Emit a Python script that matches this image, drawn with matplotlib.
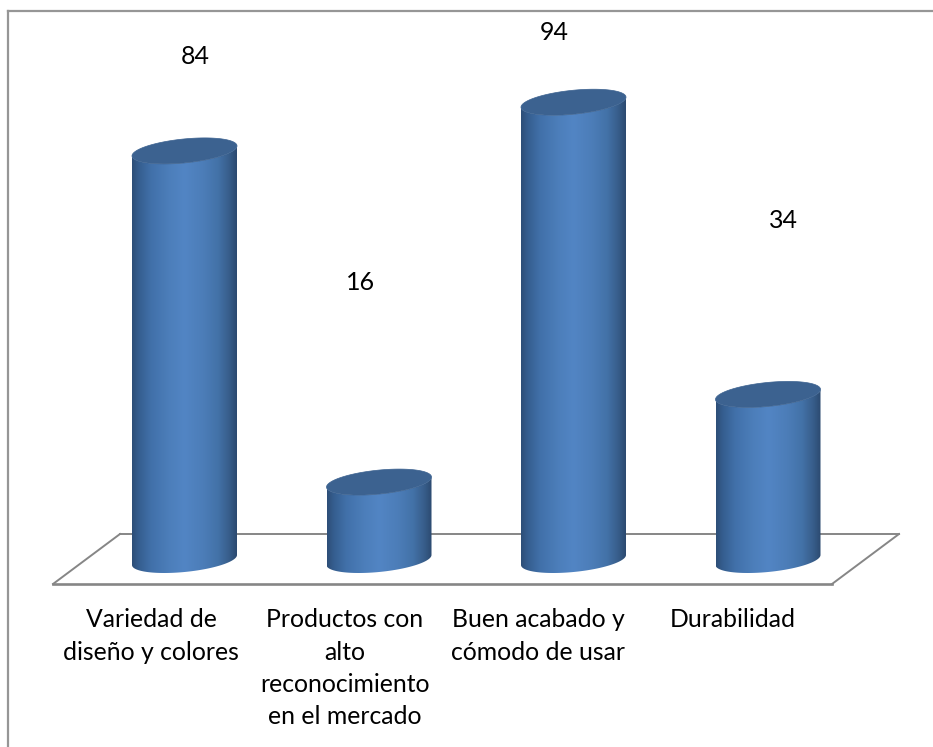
import numpy as np
import matplotlib
matplotlib.use('Agg')
import matplotlib.pyplot as plt
from matplotlib.colors import LinearSegmentedColormap
from matplotlib.lines import Line2D
from matplotlib.patches import Polygon

W, H = 933, 747

categories = ['Variedad de\ndiseño y colores',
              'Productos con\nalto\nreconocimiento\nen el mercado',
              'Buen acabado y\ncómodo de usar',
              'Durabilidad']
values = [84, 16, 94, 34]

# pixel layout of the chart
bar_spacing = 194.5
first_bar_x = 184.5
base_y = 560
px_per_unit = 4.87
value_label_pos = [(195, 56), (361, 282), (554, 33), (783, 220)]
category_label_x = [151, 345, 538, 733]
category_label_y = 608

# cylinder ends are slanted ellipses
half_width = 52.5 / bar_spacing
tilt = 5 / px_per_unit
depth = 12 / px_per_unit

body_cmap = LinearSegmentedColormap.from_list('body', [
    (0.00, '#2d4e77'), (0.06, '#355d8e'), (0.18, '#4170a9'), (0.35, '#4c7eba'),
    (0.50, '#5285c4'), (0.68, '#4c7db8'), (0.82, '#4372a8'),
    (0.93, '#375d8a'), (1.00, '#2c4a70')])


def px(x, y):
    return x / W, 1 - y / H


def ellipse(center, value, t):
    x = center + half_width * np.cos(t)
    y = value + tilt * np.cos(t) + depth * np.sin(t)
    return x, y


def draw_cylinder(ax, center, value):
    # body: front half of the bottom ellipse, back up the sides
    t = np.linspace(np.pi, 2 * np.pi, 80)
    bx, by = ellipse(center, 0, t)
    tx, ty = ellipse(center, value, t[::-1])
    outline = np.column_stack([np.r_[bx, tx], np.r_[by, ty]])
    clip = Polygon(outline, closed=True, transform=ax.transData, facecolor='none', edgecolor='none')
    ax.add_patch(clip)
    gradient = np.linspace(0, 1, 256).reshape(1, -1)
    im = ax.imshow(gradient, cmap=body_cmap, aspect='auto', zorder=3,
                   extent=[center - half_width, center + half_width, -5, value + 5])
    im.set_clip_path(clip)
    # top cap
    t = np.linspace(0, 2 * np.pi, 160)
    cx, cy = ellipse(center, value, t)
    ax.fill(cx, cy, color='#3c6290', lw=0.5, zorder=4)


fig = plt.figure(figsize=(W / 100, H / 100), dpi=100)
plt.rcParams['font.family'] = ['Lato', 'DejaVu Sans']
ax = fig.add_axes([0, 0, 1, 1])
ax.axis('off')

for i, v in enumerate(values):
    draw_cylinder(ax, i, v)

ax.set_xlim(-first_bar_x / bar_spacing, (W - first_bar_x) / bar_spacing)
ax.set_ylim(-(H - base_y) / px_per_unit, base_y / px_per_unit)

# chart frame, open to the right and bottom
grey = '#969696'
for (x0, y0), (x1, y1) in [((8, H), (8, 11)), ((8, 11), (W, 11))]:
    fig.add_artist(Line2D(*zip(px(x0, y0), px(x1, y1)), color=grey, lw=1.6, zorder=1))

# floor of the 3d plot, drawn in figure coordinates behind the cylinders
floor_grey = '#868686'
floor = [((120, 534), (899, 534), 1.4), ((53, 584), (832, 584), 1.9),
         ((53, 584), (120, 534), 1.4), ((832, 584), (899, 534), 1.4)]
for (x0, y0), (x1, y1), lw in floor:
    ax.add_line(Line2D(*zip(px(x0, y0), px(x1, y1)), transform=fig.transFigure,
                       color=floor_grey, lw=lw, zorder=2, solid_capstyle='projecting'))

for v, pos in zip(values, value_label_pos):
    fx, fy = px(*pos)
    fig.text(fx, fy, str(v), ha='center', va='center', fontsize=18, color='black')

for x, name in zip(category_label_x, categories):
    fx, fy = px(x, category_label_y)
    fig.text(fx, fy, name, ha='center', va='top', fontsize=17.8, color='black', linespacing=1.5)

fig.savefig('out.png', dpi=100)
